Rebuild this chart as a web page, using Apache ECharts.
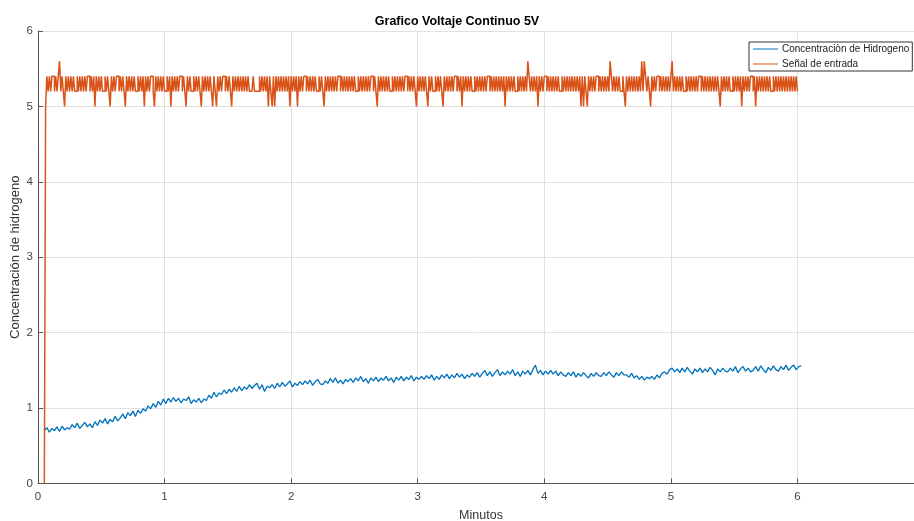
<!DOCTYPE html>
<html>
<head>
<meta charset="utf-8">
<script src="https://cdn.jsdelivr.net/npm/echarts@6/dist/echarts.min.js"></script>
<style>
html,body{margin:0;padding:0;background:#fff;}
#chart{width:914px;height:521px;}
</style>
</head>
<body>
<div id="chart"></div>
<script>
// ---- Data ----
var titleText = 'Grafico Voltaje Continuo 5V';
var seriesNames = ['Concentraciòn de Hidrogeno', 'Señal de entrada'];
var xTicks = [0, 1, 2, 3, 4, 5, 6, 7];
var yTicks = [0, 1, 2, 3, 4, 5, 6];

// sampling times (minutes) of each record
var hydrogenStart = 0.05, hydrogenStep = 0.02;
var signalStart = 0.05, signalStep = 0.01;

// Concentración de Hidrogeno (blue)
var hydrogen = [
0.70,0.74,0.68,0.73,0.70,0.75,0.69,0.76,0.71,0.74,
0.72,0.78,0.74,0.80,0.73,0.77,0.81,0.75,0.79,0.74,
0.82,0.77,0.84,0.80,0.86,0.79,0.85,0.82,0.89,0.83,
0.87,0.92,0.86,0.94,0.90,0.96,0.89,0.97,0.93,0.99,
0.96,1.03,0.99,1.06,1.01,1.09,1.04,1.12,1.06,1.13,
1.08,1.14,1.09,1.13,1.07,1.12,1.10,1.15,1.06,1.11,
1.08,1.13,1.07,1.12,1.10,1.17,1.13,1.21,1.15,1.20,
1.18,1.24,1.19,1.25,1.21,1.27,1.22,1.29,1.23,1.28,
1.25,1.31,1.26,1.30,1.33,1.25,1.31,1.22,1.29,1.27,
1.31,1.26,1.33,1.28,1.34,1.29,1.32,1.36,1.28,1.33,
1.30,1.35,1.31,1.36,1.32,1.37,1.30,1.35,1.38,1.32,
1.31,1.36,1.33,1.39,1.34,1.40,1.33,1.37,1.32,1.38,
1.35,1.39,1.34,1.40,1.36,1.42,1.35,1.39,1.33,1.40,
1.36,1.41,1.35,1.40,1.37,1.42,1.36,1.40,1.34,1.41,
1.37,1.42,1.36,1.41,1.38,1.43,1.36,1.41,1.38,1.42,
1.38,1.43,1.39,1.44,1.37,1.42,1.38,1.44,1.40,1.45,
1.39,1.44,1.40,1.46,1.41,1.45,1.39,1.44,1.41,1.46,
1.42,1.47,1.41,1.46,1.50,1.43,1.48,1.42,1.47,1.51,
1.43,1.48,1.44,1.49,1.45,1.51,1.43,1.48,1.42,1.49,
1.45,1.50,1.44,1.51,1.57,1.46,1.50,1.44,1.49,1.45,
1.50,1.45,1.49,1.43,1.48,1.44,1.42,1.47,1.43,1.48,
1.41,1.46,1.42,1.47,1.43,1.40,1.46,1.42,1.47,1.43,
1.42,1.47,1.43,1.48,1.44,1.41,1.47,1.43,1.48,1.44,
1.44,1.41,1.46,1.40,1.43,1.38,1.42,1.37,1.41,1.39,
1.42,1.38,1.44,1.40,1.46,1.48,1.45,1.51,1.53,1.48,
1.52,1.47,1.53,1.48,1.54,1.49,1.45,1.52,1.48,1.53,
1.47,1.52,1.48,1.54,1.50,1.44,1.52,1.48,1.53,1.49,
1.48,1.53,1.49,1.55,1.47,1.52,1.55,1.49,1.53,1.48,
1.50,1.55,1.49,1.56,1.51,1.47,1.54,1.50,1.56,1.51,
1.49,1.55,1.51,1.57,1.50,1.54,1.57,1.51,1.55,1.56
];

// Señal de entrada (orange)
var signal = [
0,5.0,5.4,5.2,5.4,5.2,5.4,5.4,5.2,5.4,
5.2,5.4,5.6,5.2,5.4,5.2,5.0,5.4,5.2,5.4,
5.2,5.4,5.2,5.4,5.2,5.2,5.4,5.2,5.4,5.2,
5.4,5.2,5.4,5.2,5.4,5.4,5.2,5.4,5.2,5.4,
5.0,5.4,5.2,5.4,5.2,5.4,5.2,5.2,5.4,5.2,
5.4,5.2,5.0,5.4,5.2,5.4,5.2,5.4,5.4,5.2,
5.4,5.2,5.4,5.2,5.0,5.4,5.2,5.4,5.2,5.4,
5.2,5.4,5.2,5.2,5.4,5.2,5.4,5.2,5.4,5.0,
5.4,5.2,5.4,5.2,5.4,5.4,5.2,5.0,5.4,5.2,
5.4,5.2,5.4,5.2,5.4,5.2,5.2,5.4,5.2,5.4,
5.0,5.4,5.2,5.4,5.2,5.4,5.2,5.4,5.4,5.2,
5.4,5.2,5.0,5.4,5.2,5.4,5.2,5.2,5.4,5.2,
5.4,5.2,5.4,5.2,5.0,5.4,5.2,5.4,5.2,5.4,
5.2,5.4,5.2,5.0,5.4,5.2,5.0,5.4,5.2,5.4,
5.2,5.4,5.4,5.2,5.4,5.2,5.4,5.2,5.0,5.4,
5.2,5.4,5.2,5.4,5.2,5.4,5.2,5.4,5.2,5.4,
5.2,5.4,5.2,5.2,5.2,5.4,5.2,5.2,5.2,5.2,
5.4,5.2,5.4,5.2,5.4,5.2,5.4,5.0,5.4,5.2,
5.0,5.4,5.0,5.4,5.2,5.4,5.2,5.4,5.2,5.4,
5.2,5.4,5.2,5.4,5.0,5.4,5.2,5.4,5.2,5.4,
5.0,5.4,5.2,5.4,5.2,5.4,5.4,5.2,5.4,5.2,
5.4,5.2,5.4,5.2,5.4,5.2,5.2,5.4,5.2,5.4,
5.2,5.0,5.4,5.2,5.4,5.2,5.4,5.2,5.4,5.2,
5.4,5.2,5.4,5.4,5.2,5.4,5.2,5.4,5.2,5.4,
5.2,5.4,5.2,5.4,5.2,5.4,5.2,5.2,5.4,5.2,
5.4,5.2,5.4,5.2,5.4,5.2,5.4,5.2,5.4,5.4,
5.2,5.4,5.2,5.0,5.4,5.2,5.4,5.2,5.4,5.2,
5.4,5.2,5.4,5.2,5.2,5.4,5.2,5.4,5.2,5.4,
5.2,5.4,5.2,5.4,5.2,5.4,5.4,5.2,5.4,5.2,
5.4,5.2,5.4,5.2,5.0,5.4,5.2,5.4,5.2,5.4,
5.2,5.4,5.2,5.0,5.4,5.2,5.4,5.2,5.2,5.4,
5.2,5.4,5.2,5.4,5.2,5.0,5.4,5.2,5.4,5.2,
5.4,5.2,5.4,5.2,5.4,5.4,5.2,5.4,5.2,5.4,
5.0,5.4,5.2,5.4,5.2,5.4,5.2,5.4,5.2,5.2,
5.4,5.2,5.4,5.2,5.4,5.2,5.4,5.2,5.4,5.2,
5.4,5.4,5.2,5.4,5.2,5.4,5.2,5.4,5.2,5.4,
5.2,5.4,5.2,5.4,5.0,5.4,5.2,5.4,5.2,5.4,
5.2,5.4,5.2,5.2,5.4,5.2,5.4,5.2,5.4,5.2,
5.4,5.2,5.6,5.4,5.2,5.4,5.2,5.4,5.2,5.4,
5.0,5.4,5.2,5.4,5.2,5.4,5.4,5.2,5.4,5.2,
5.4,5.2,5.4,5.2,5.4,5.2,5.4,5.2,5.2,5.4,
5.2,5.4,5.2,5.4,5.2,5.4,5.2,5.4,5.2,5.4,
5.2,5.4,5.2,5.4,5.0,5.4,5.0,5.4,5.2,5.0,
5.4,5.2,5.4,5.2,5.4,5.2,5.4,5.4,5.2,5.4,
5.2,5.4,5.2,5.4,5.2,5.4,5.2,5.6,5.4,5.2,
5.4,5.2,5.4,5.2,5.4,5.2,5.2,5.4,5.2,5.0,
5.4,5.2,5.4,5.2,5.4,5.2,5.4,5.2,5.4,5.2,
5.4,5.2,5.6,5.2,5.6,5.4,5.2,5.4,5.2,5.0,
5.4,5.2,5.4,5.2,5.4,5.4,5.2,5.4,5.2,5.4,
5.2,5.4,5.2,5.4,5.2,5.4,5.6,5.2,5.4,5.2,
5.4,5.2,5.4,5.2,5.4,5.2,5.2,5.4,5.2,5.4,
5.2,5.4,5.2,5.4,5.2,5.4,5.2,5.4,5.4,5.2,
5.4,5.2,5.4,5.2,5.4,5.2,5.4,5.2,5.4,5.2,
5.4,5.2,5.4,5.2,5.0,5.4,5.2,5.4,5.2,5.4,
5.2,5.4,5.2,5.2,5.4,5.2,5.4,5.2,5.4,5.2,
5.4,5.0,5.4,5.2,5.4,5.2,5.4,5.2,5.4,5.4,
5.2,5.4,5.0,5.4,5.2,5.4,5.2,5.4,5.2,5.4,
5.2,5.4,5.2,5.4,5.2,5.2,5.4,5.2,5.4,5.2,
5.4,5.2,5.4,5.2,5.4,5.2,5.4,5.2,5.4,5.2,
5.4,5.2,5.4,5.2,5.4,5.2
];

function pairs(values, start, step) {
  var out = [];
  for (var i = 0; i < values.length; i++) {
    out.push([+(start + i * step).toFixed(4), values[i]]);
  }
  return out;
}

var FONT = "'Liberation Sans', Arial, Helvetica, sans-serif";
var axisColor = '#555';
var gridColor = '#e0e0e0';

var chart = echarts.init(document.getElementById('chart'), null, {renderer: 'canvas'});
chart.setOption({
  animation: false,
  backgroundColor: '#fff',
  title: {
    text: titleText,
    left: 'center',
    top: 10,
    textStyle: {fontFamily: FONT, fontSize: 12.5, fontWeight: 'bold', color: '#000'}
  },
  legend: {
    orient: 'vertical',
    left: 749,
    top: 42,
    data: [
      {name: seriesNames[0], icon: 'rect'},
      {name: seriesNames[1], icon: 'rect'}
    ],
    itemWidth: 25,
    itemHeight: 1,
    itemGap: 3,
    padding: [1, 3, 1, 4],
    backgroundColor: '#fff',
    borderColor: '#333',
    borderWidth: 1,
    borderRadius: 0,
    z: 10,
    selectedMode: false,
    textStyle: {fontFamily: FONT, fontSize: 10, color: '#222', lineHeight: 12, padding: [0, 0, 0, -1]}
  },
  grid: {left: 38, right: -10, top: 31, bottom: 37.5, containLabel: false, outerBoundsMode: 'none'},
  xAxis: {
    type: 'value',
    min: xTicks[0],
    max: xTicks[xTicks.length - 1],
    interval: 1,
    name: 'Minutos',
    nameLocation: 'middle',
    nameGap: 25.5,
    nameTextStyle: {fontFamily: FONT, fontSize: 12.5, color: '#333'},
    axisLine: {show: true, onZero: false, lineStyle: {color: axisColor, width: 1}},
    axisTick: {show: true, inside: true, length: 5, lineStyle: {color: axisColor}},
    axisLabel: {fontFamily: FONT, fontSize: 11.5, color: '#444', margin: 7},
    splitLine: {show: true, lineStyle: {color: gridColor, width: 1}}
  },
  yAxis: {
    type: 'value',
    min: yTicks[0],
    max: yTicks[yTicks.length - 1],
    interval: 1,
    name: 'Concentración de hidrogeno',
    nameLocation: 'middle',
    nameGap: 16,
    nameMoveOverlap: false,
    nameTextStyle: {fontFamily: FONT, fontSize: 13, color: '#333'},
    axisLine: {show: true, lineStyle: {color: axisColor, width: 1}},
    axisTick: {show: true, inside: true, length: 5, lineStyle: {color: axisColor}},
    axisLabel: {fontFamily: FONT, fontSize: 11.5, color: '#444', margin: 5},
    splitLine: {show: true, lineStyle: {color: gridColor, width: 1}}
  },
  series: [
    {
      name: seriesNames[0],
      type: 'line',
      data: pairs(hydrogen, hydrogenStart, hydrogenStep),
      showSymbol: false,
      symbol: 'none',
      color: '#0072BD',
      lineStyle: {color: '#0072BD', width: 1.3},
      itemStyle: {color: '#0072BD'},
      silent: true
    },
    {
      name: seriesNames[1],
      type: 'line',
      step: 'end',
      data: pairs(signal, signalStart, signalStep),
      showSymbol: false,
      symbol: 'none',
      color: '#D95319',
      lineStyle: {color: '#D95319', width: 1.5},
      itemStyle: {color: '#D95319'},
      silent: true
    }
  ]
});
</script>
</body>
</html>
